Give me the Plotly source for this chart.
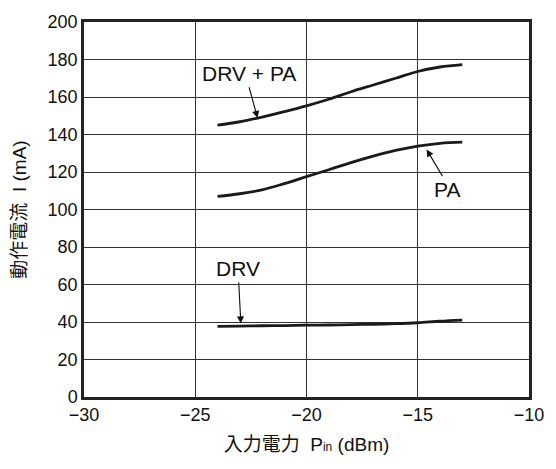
import plotly.graph_objects as go

# Data
pin = [-24, -23, -22, -21, -20, -19, -18, -17, -16, -15, -14, -13]
drv_pa = [145.0, 146.8, 149.3, 152.2, 155.3, 158.8, 162.8, 166.4, 170.0, 173.6, 176.0, 177.3]
pa = [107.0, 108.4, 110.5, 113.8, 117.5, 121.2, 125.0, 128.5, 131.5, 133.8, 135.3, 135.9]
drv = [37.7, 37.8, 38.0, 38.1, 38.3, 38.4, 38.6, 38.8, 39.1, 39.6, 40.4, 41.0]

x_ticks = [-30, -25, -20, -15, -10]
x_tick_labels = ["\u221230", "\u221225", "\u221220", "\u221215", "\u221210"]
y_ticks = [0, 20, 40, 60, 80, 100, 120, 140, 160, 180, 200]

# Labels: (text, x, y) and arrows: (tail_x, tail_y, head_x, head_y)
labels = [("DRV + PA", -22.6, 172.5), ("PA", -13.7, 110.7), ("DRV", -23.1, 68.3)]
arrows = [(-22.6, 166.0, -22.2, 148.8), (-13.85, 117.0, -14.6, 132.0), (-23.05, 62.0, -22.95, 39.2)]

font_family = "Liberation Sans, Arial, Noto Sans CJK JP, sans-serif"

fig = go.Figure()
for ys in (drv_pa, pa, drv):
    fig.add_trace(go.Scatter(x=pin, y=ys, mode="lines",
                             line=dict(color="#1a1a1a", width=2.8, shape="spline"),
                             showlegend=False, hoverinfo="skip"))

annotations = []
for t, x, y in labels:
    annotations.append(dict(x=x, y=y, xref="x", yref="y", text=t, showarrow=False,
                            font=dict(size=21, color="#111", family=font_family)))
for tx, ty, hx, hy in arrows:
    annotations.append(dict(x=hx, y=hy, ax=tx, ay=ty, xref="x", yref="y", axref="x", ayref="y",
                            text="", showarrow=True, arrowhead=2, arrowsize=1.3, arrowwidth=1.1,
                            arrowcolor="#111", standoff=0, startstandoff=0))

fig.update_layout(
    width=556, height=469,
    margin=dict(l=84, r=18, t=20, b=72),
    paper_bgcolor="white", plot_bgcolor="white",
    font=dict(family=font_family, color="#111", size=18),
    xaxis=dict(range=[-30, -10], tickvals=x_ticks, ticktext=x_tick_labels,
               showgrid=True, gridcolor="#333", gridwidth=1.2,
               showline=True, linecolor="#222", linewidth=2.5, mirror=True,
               zeroline=False, ticks="", tickfont=dict(size=18),
               title=dict(text="入力電力  P<span style='font-size:12px'>in</span> (dBm)",
                          font=dict(size=19), standoff=14)),
    yaxis=dict(range=[0, 200], tickvals=y_ticks,
               showgrid=True, gridcolor="#333", gridwidth=1.2,
               showline=True, linecolor="#222", linewidth=2.5, mirror=True,
               zeroline=False, ticks="", tickfont=dict(size=18),
               title=dict(text="動作電流  I (mA)", font=dict(size=19), standoff=16)),
    annotations=annotations,
)

fig.write_html("out.html")
